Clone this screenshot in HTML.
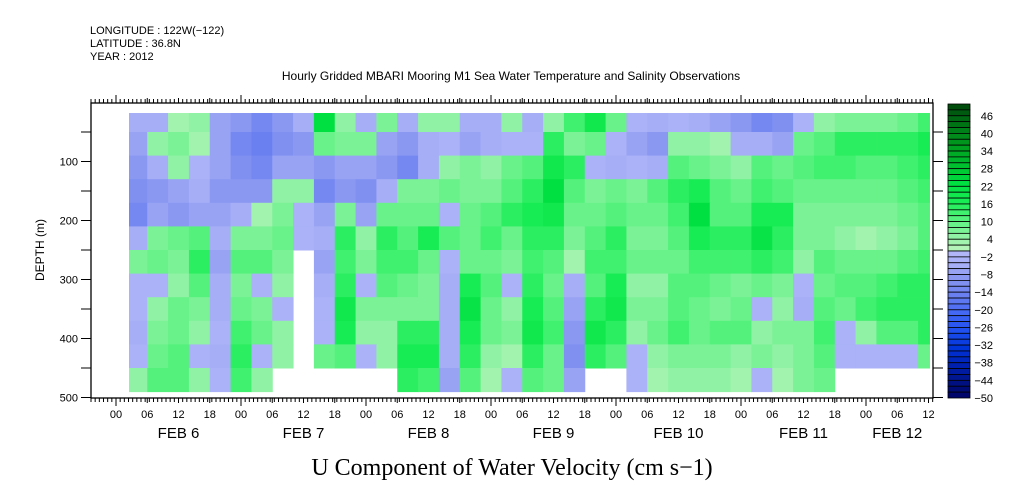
<!DOCTYPE html>
<html><head><meta charset="utf-8">
<style>
html,body{margin:0;padding:0;background:#fff;}
svg{display:block;font-family:"Liberation Sans",sans-serif;}
</style></head>
<body>
<svg id="chart" width="1009" height="504" viewBox="0 0 1009 504" xmlns="http://www.w3.org/2000/svg">
<defs><clipPath id="dclip"><rect x="129" y="113" width="801" height="280"/></clipPath></defs>
<g font-size="11" fill="#000">
<text x="90" y="34">LONGITUDE : 122W(−122)</text>
<text x="90" y="47">LATITUDE : 36.8N</text>
<text x="90" y="60">YEAR : 2012</text>
</g>
<text x="511" y="80" font-size="12" text-anchor="middle">Hourly Gridded MBARI Mooring M1 Sea Water Temperature and Salinity Observations</text>
<g id="cells" clip-path="url(#dclip)"></g>
<rect x="91" y="103" width="842" height="295" fill="none" stroke="#000" stroke-width="1.3"/>
<g id="axes" stroke="#000" stroke-width="1"></g>
<g id="labels" font-size="12" fill="#000"></g>
<text transform="translate(44,250) rotate(-90)" font-size="12" text-anchor="middle">DEPTH (m)</text>
<text x="512" y="475" font-family="Liberation Serif, serif" font-size="24" text-anchor="middle">U Component of Water Velocity (cm s−1)</text>
<g id="cbar"></g>
</svg>
<script>
// time axis: hours since Feb 6 00:00; depth axis in m
const colStartHours = 2;
const colStepHours = 4;
const depthCenters = [30,70,110,150,190,230,270,310,350,390,430,470];
const dayLabels = ["FEB  6","FEB  7","FEB  8","FEB  9","FEB 10","FEB 11","FEB 12"];
const dayLabelHours = [12,36,60,84,108,132,150];
const hourLabels = ["00","06","12","18"];
const depthTicks = [100,200,300,400,500];
const cbarLabels = [46,40,34,28,22,16,10,4,-2,-8,-14,-20,-26,-32,-38,-44,-50];
const N = null;
const d30  = [-6,-6,3,5,-8,-10,-14,-10,-6,22,4,-6,6,-6,4,4,-6,-6,4,-6,4,12,18,8,-4,-6,-4,-6,-8,-10,-14,-12,-4,4,6,6,6,8,12];
const d70  = [-8,4,6,3,-8,-14,-16,-12,-10,8,6,6,-8,-10,-6,-4,-8,-6,-4,-4,14,6,8,-4,-8,-10,4,4,3,-6,-6,-8,8,10,14,14,14,14,16];
const d110 = [-10,-6,4,-4,-8,-12,-14,-8,-8,-10,-8,-8,-10,-14,-6,4,6,4,8,10,18,14,-4,-6,-4,-6,10,8,6,4,10,8,10,12,12,10,10,12,14];
const d150 = [-12,-10,-8,-6,-10,-10,-10,4,4,-14,-10,-12,-6,6,6,8,6,6,10,14,22,10,6,8,6,10,14,16,10,8,12,10,8,8,8,8,8,10,12];
const d190 = [-14,-8,-10,-8,-8,-6,3,6,-4,-8,6,-8,8,8,8,-4,8,10,14,16,18,8,8,10,8,8,12,22,10,10,16,16,6,6,6,6,6,8,10];
const d230 = [-5,6,8,10,-6,6,6,8,-4,-6,14,4,14,10,16,10,8,12,8,14,14,6,10,14,6,6,10,16,14,14,20,14,6,6,4,3,4,6,10];
const d270 = [6,8,6,14,-8,10,10,6,N,-8,12,6,12,12,8,-4,8,8,6,12,10,3,12,12,8,8,8,12,12,12,14,12,4,10,8,8,8,10,12];
const d310 = [-4,-4,4,10,-6,6,-4,4,N,-6,14,-4,10,8,6,-6,16,10,-4,14,8,-6,10,16,4,4,10,10,8,6,8,6,-4,8,10,10,12,14,14];
const d350 = [-4,4,8,6,-6,8,6,-4,N,-4,18,6,6,6,6,-6,20,8,4,16,10,-8,14,18,6,6,10,8,6,8,-4,4,-6,10,8,12,14,14,14];
const d390 = [-6,6,8,4,-4,12,8,4,N,-4,16,4,4,14,14,-6,16,8,6,18,12,-10,18,14,4,8,12,8,10,10,4,6,6,12,-4,4,10,10,14];
const d430 = [-4,8,10,-4,-6,14,-4,4,N,8,10,-4,4,16,16,-6,14,4,3,14,8,-12,14,10,-4,4,6,6,6,4,6,4,6,10,-4,-4,-4,-4,8];
const d470 = [4,10,10,4,-4,12,4,N,N,N,N,N,N,14,12,-8,10,3,-4,10,8,-8,N,N,-4,3,4,4,4,3,-4,3,6,8,N,N,N,N,N];
const rows = [d30,d70,d110,d150,d190,d230,d270,d310,d350,d390,d430,d470];

const NS="http://www.w3.org/2000/svg";
const X0=116, DAYPX=125, Y0=102.5, DPX=59/100;
function xOf(h){return X0+h*DAYPX/24;}
function yOf(d){return Y0+d*DPX;}
function hex(c){return [parseInt(c.slice(1,3),16),parseInt(c.slice(3,5),16),parseInt(c.slice(5,7),16)];}
const posA=[[0,'#b4f4b8'],[4,'#90f2a4'],[10,'#54f27c'],[16,'#18ec54'],[22,'#00e040'],[28,'#00c030'],[34,'#00a020'],[40,'#008018'],[46,'#005a10'],[50,'#004008']];
const negA=[[0,'#b0b6f8'],[4,'#a6aef6'],[8,'#8a98f2'],[14,'#6a80f0'],[20,'#4468f4'],[26,'#2050f0'],[32,'#0034d8'],[38,'#0020b0'],[44,'#001080'],[50,'#000060']];
function interp(a,v){for(let i=1;i<a.length;i++){if(v<=a[i][0]){const t=(v-a[i-1][0])/(a[i][0]-a[i-1][0]);const c1=hex(a[i-1][1]),c2=hex(a[i][1]);return 'rgb('+c1.map((c,k)=>Math.round(c+(c2[k]-c)*t)).join(',')+')';}}return a[a.length-1][1];}
function colorOf(v){const lv=Math.floor(v/2)*2; if(v>=0) return interp(posA,Math.min(lv,48)); return interp(negA,Math.min(-(lv+2),48));}

const cells=document.getElementById('cells');
const half=(depthCenters[1]-depthCenters[0])/2;
rows.forEach((row,ri)=>{
  row.forEach((v,ci)=>{
    if(v===null) return;
    const h=colStartHours+ci*colStepHours;
    const r=document.createElementNS(NS,'rect');
    r.setAttribute('x',xOf(h)); r.setAttribute('width',xOf(h+colStepHours)-xOf(h)+0.5);
    r.setAttribute('y',yOf(depthCenters[ri]-half)); r.setAttribute('height',yOf(depthCenters[ri]+half)-yOf(depthCenters[ri]-half)+0.5);
    r.setAttribute('fill',colorOf(v));
    
    
    cells.appendChild(r);
  });
});

const axes=document.getElementById('axes'), labels=document.getElementById('labels');
function line(x1,y1,x2,y2,g){const l=document.createElementNS(NS,'line');l.setAttribute('x1',x1);l.setAttribute('y1',y1);l.setAttribute('x2',x2);l.setAttribute('y2',y2);(g||axes).appendChild(l);}
function text(x,y,s,anchor,g,name,size){const t=document.createElementNS(NS,'text');t.setAttribute('x',x);t.setAttribute('y',y);t.setAttribute('text-anchor',anchor);if(size)t.setAttribute('font-size',size);t.textContent=s;(g||labels).appendChild(t);return t;}
for(let x=xOf(0)-6*125/30;x<=933;x+=125/30){ if(x<91) continue; line(x,398,x,402); line(x,103,x,99); }
for(let h=0;h<=156;h+=6){const x=xOf(h); if(x>933) break; const L=(h%24===0)?8:5; line(x,398,x,398+L); line(x,103,x,103-L);
  text(x,418,hourLabels[(h/6)%4],'middle',labels,'x-hour-label',11);}
dayLabels.forEach((s,i)=>{text(xOf(dayLabelHours[i]),438,s,'middle',labels,'x-day-label',15);});
for(let d=50;d<=500;d+=50){const y=yOf(d); line(81,y,91,y); line(933,y,943,y);}
depthTicks.forEach(d=>{text(78,yOf(d)+4,String(d),'end',labels,'y-tick-label',11);});

const cb=document.getElementById('cbar');
const CT=104, CB=398, step=(CB-CT)/50;
for(let i=0;i<50;i++){const v=48-2*i; const r=document.createElementNS(NS,'rect');
  r.setAttribute('x',948);r.setAttribute('y',CT+i*step);r.setAttribute('width',22);r.setAttribute('height',step);
  r.setAttribute('fill',colorOf(v+1));r.setAttribute('stroke','#000');r.setAttribute('stroke-width','0.8');
  
  
  cb.appendChild(r);}
cbarLabels.forEach(v=>{const y=CT+(50-v)*step/2; text(993,y+4,String(v).replace('-','−'),'end',cb,'colorbar-label',11);});
</script>
</body></html>
